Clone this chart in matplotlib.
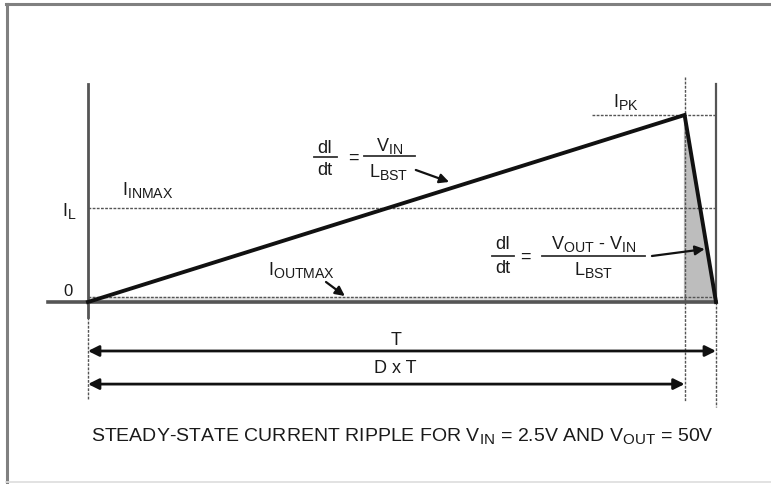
import matplotlib.pyplot as plt
import matplotlib
import matplotlib._mathtext as mathtext_core
from matplotlib.lines import Line2D

matplotlib.rcParams['font.family'] = ['Liberation Sans', 'DejaVu Sans']
matplotlib.rcParams['mathtext.fontset'] = 'custom'
matplotlib.rcParams['mathtext.rm'] = 'Liberation Sans'
matplotlib.rcParams['mathtext.it'] = 'Liberation Sans'
# subscripts in the original are larger than mathtext's default 0.7
mathtext_core.SHRINK_FACTOR = 0.78

# waveform values (time in units of T, current normalised to I_PK)
v_in = 2.5
v_out = 50
duty = 0.95
t_wave = [0.0, duty, 1.0]
i_wave = [0.0, 1.0, 0.0]
i_pk = 1.0
i_inmax = 0.5
i_outmax = 0.025

ink = '#111111'
txt = '#1a1a1a'
grid_c = '#555555'
dash = (0, (2, 1))

fig = plt.figure(figsize=(7.71, 4.85), dpi=100)
ax = fig.add_axes([0, 0, 1, 1])
ax.set_xlim(-0.1401, 1.0876)
ax.set_ylim(-0.9733, 1.6203)
ax.axis('off')

# frame around the picture
fig.add_artist(Line2D([0.0085, 0.0085], [0.0, 0.99], transform=fig.transFigure, color='#808080', lw=2.2))
fig.add_artist(Line2D([0.0075, 1.0], [0.99, 0.99], transform=fig.transFigure, color='#808080', lw=2.2))
fig.add_artist(Line2D([0.0075, 1.0], [0.004, 0.004], transform=fig.transFigure, color='#dddddd', lw=1.2))

# shaded regions
ax.fill([duty, 1.0, duty], [i_pk, 0, 0], color='#bdbdbd', zorder=1)
ax.fill_between([0, 1.0], 0, i_outmax, color='#e4e4e4', zorder=0)

# axes
ax.plot([0, 0], [1.166, -0.08], color=grid_c, lw=2, zorder=2)
ax.plot([-0.0637, 1.0], [0, 0], color=grid_c, lw=2.6, zorder=2)
ax.plot([1.0, 1.0], [1.166, 0], color=grid_c, lw=1.6, zorder=2)

# dashed guides
ax.plot([0, 1.0], [i_inmax, i_inmax], color=grid_c, lw=1, ls=dash, zorder=2)
ax.plot([0, 1.0], [i_outmax, i_outmax], color=grid_c, lw=1, ls=dash, zorder=2)
ax.plot([0.8025, 1.0], [i_pk, i_pk], color=grid_c, lw=1, ls=dash, zorder=2)
ax.plot([duty, duty], [1.203, -0.529], color=grid_c, lw=1, ls=dash, zorder=2)
ax.plot([0, 0], [-0.08, -0.519], color=grid_c, lw=1, ls=dash, zorder=2)
ax.plot([1.0, 1.0], [0, -0.561], color=grid_c, lw=1, ls=dash, zorder=2)

# inductor current
ax.plot(t_wave, i_wave, color=ink, lw=2.8, solid_joinstyle='miter', zorder=3)

fs = 13
ax.text(-0.0175, 0.49, r'$\mathrm{I}_{\mathrm{L}}$', fontsize=fs, ha='right', va='center', color=txt)
ax.text(-0.032, 0.059, '0', fontsize=12, ha='center', va='center', color=txt)
ax.text(0.054, 0.604, r'$\mathrm{I}_{\mathrm{INMAX}}$', fontsize=fs, ha='left', va='center', color=txt)
ax.text(0.287, 0.176, r'$\mathrm{I}_{\mathrm{OUTMAX}}$', fontsize=fs, ha='left', va='center', color=txt)
ax.text(0.836, 1.075, r'$\mathrm{I}_{\mathrm{PK}}$', fontsize=fs, ha='left', va='center', color=txt)

arrow = dict(arrowstyle='-|>', color=ink, lw=1.6, mutation_scale=14, shrinkA=0, shrinkB=0)
ax.annotate('', xy=(0.409, 0.032), xytext=(0.379, 0.107), arrowprops=arrow)
ax.annotate('', xy=(0.575, 0.642), xytext=(0.522, 0.706), arrowprops=arrow)
ax.annotate('', xy=(0.982, 0.283), xytext=(0.898, 0.246), arrowprops=arrow)

# dI/dt = VIN / LBST
ax.text(0.377, 0.825, 'dI', fontsize=fs, ha='center', va='center', color=txt)
ax.plot([0.360, 0.396], [0.775, 0.775], color='#333', lw=1.3)
ax.text(0.377, 0.708, 'dt', fontsize=fs, ha='center', va='center', color=txt)
ax.text(0.422, 0.775, '=', fontsize=fs, ha='center', va='center', color=txt)
ax.text(0.480, 0.840, r'$\mathrm{V}_{\mathrm{IN}}$', fontsize=fs, ha='center', va='center', color=txt)
ax.plot([0.439, 0.521], [0.781, 0.781], color='#333', lw=1.3)
ax.text(0.478, 0.700, r'$\mathrm{L}_{\mathrm{BST}}$', fontsize=fs, ha='center', va='center', color=txt)

# dI/dt = (VOUT - VIN) / LBST
ax.text(0.661, 0.312, 'dI', fontsize=fs, ha='center', va='center', color=txt)
ax.plot([0.643, 0.678], [0.246, 0.246], color='#333', lw=1.3)
ax.text(0.661, 0.185, 'dt', fontsize=fs, ha='center', va='center', color=txt)
ax.text(0.696, 0.246, '=', fontsize=fs, ha='center', va='center', color=txt)
ax.text(0.805, 0.316, r'$\mathrm{V}_{\mathrm{OUT}}$ - $\mathrm{V}_{\mathrm{IN}}$', fontsize=fs,
        ha='center', va='center', color=txt)
ax.plot([0.723, 0.887], [0.246, 0.246], color='#333', lw=1.3)
ax.text(0.805, 0.176, r'$\mathrm{L}_{\mathrm{BST}}$', fontsize=fs, ha='center', va='center', color=txt)

# period arrows
dim = dict(arrowstyle='<|-|>', color=ink, lw=2, mutation_scale=16, shrinkA=0, shrinkB=0)
ax.annotate('', xy=(1.0, -0.262), xytext=(0, -0.262), arrowprops=dim)
ax.text(0.49, -0.198, 'T', fontsize=fs, ha='center', va='center', color=txt)
ax.annotate('', xy=(duty, -0.439), xytext=(0, -0.439), arrowprops=dim)
ax.text(0.49, -0.348, 'D x T', fontsize=fs, ha='center', va='center', color=txt)

ax.text(0.5, -0.711,
        r'STEADY-STATE CURRENT RIPPLE FOR $\mathrm{V}_{\mathrm{IN}}$ = %sV AND $\mathrm{V}_{\mathrm{OUT}}$ = %dV' % (v_in, v_out),
        fontsize=14, ha='center', va='center', color=txt)

fig.savefig('out.png', dpi=100)
